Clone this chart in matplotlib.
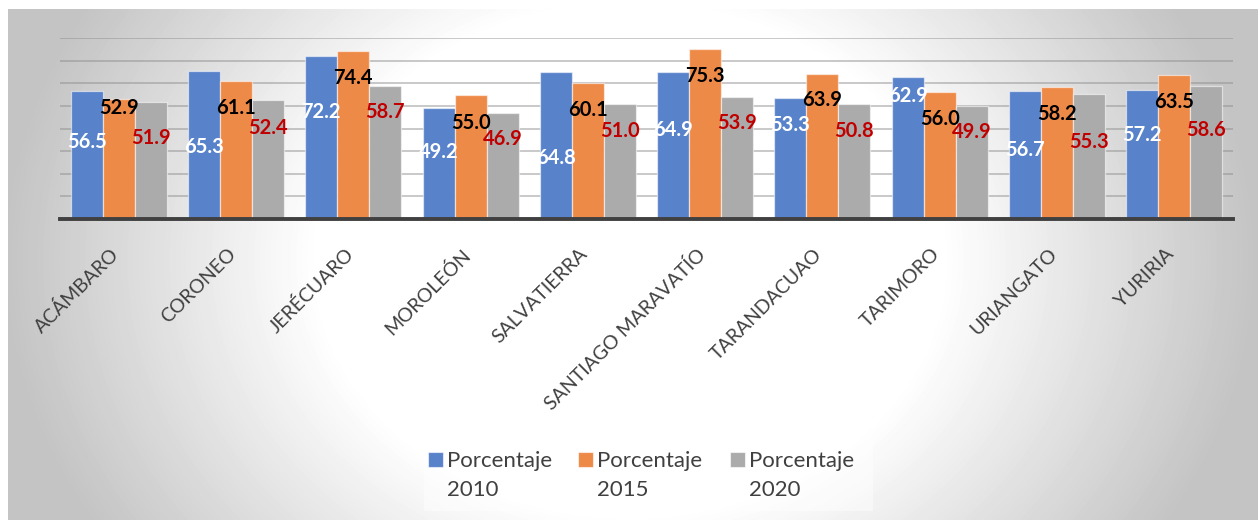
import numpy as np
import matplotlib.pyplot as plt
from matplotlib.patches import Rectangle
from matplotlib.transforms import ScaledTranslation

plt.rcParams['font.family'] = ['Lato', 'DejaVu Sans']

municipios = ['ACÁMBARO', 'CORONEO', 'JERÉCUARO', 'MOROLEÓN', 'SALVATIERRA',
              'SANTIAGO MARAVATÍO', 'TARANDACUAO', 'TARIMORO', 'URIANGATO', 'YURIRIA']
series = ['Porcentaje 2010', 'Porcentaje 2015', 'Porcentaje 2020']

p2010 = [56.5, 65.3, 72.2, 49.2, 64.8, 64.9, 53.3, 62.9, 56.7, 57.2]
p2015 = [52.9, 61.1, 74.4, 55.0, 60.1, 75.3, 63.9, 56.0, 58.2, 63.5]
p2020 = [51.9, 52.4, 58.7, 46.9, 51.0, 53.9, 50.8, 49.9, 55.3, 58.6]

# where each value label sits (data units, label centre)
lab_y2010 = [34.0, 31.8, 47.3, 29.6, 27.0, 39.3, 41.5, 54.4, 30.5, 37.1]
lab_y2015 = [49.1, 49.1, 62.3, 42.4, 48.2, 63.2, 52.6, 44.2, 46.4, 51.7]
lab_y2020 = [35.8, 40.2, 47.3, 35.4, 38.9, 42.4, 38.9, 38.5, 34.0, 39.3]

colores = ['#5883CB', '#EE8A48', '#ABABAB']
col_etiq = ['white', 'black', '#C00000']

W, H = 1258, 521
fig = plt.figure(figsize=(W / 100, H / 100), dpi=100)

# chart area background: soft elliptical gradient, white in the middle
bg = fig.add_axes([8 / W, 1 / H, 1250 / W, 511 / H])
xx, yy = np.meshgrid(np.arange(8, 1258), np.arange(9, 520))
d = np.sqrt(((xx - 630) / 625.0) ** 2 + ((yy - 260) / 510.0) ** 2)
t = np.clip((d - 0.5) / 0.5, 0, 1)
grad = 255 - t * 59
bg.imshow(grad, cmap='gray', vmin=0, vmax=255, aspect='auto',
          interpolation='bilinear')
bg.set_axis_off()

ax = fig.add_axes([60 / W, (H - 219) / H, 1173 / W, 181 / H])
ax.patch.set_alpha(0)

x = np.arange(len(municipios))
w = 0.273
valores = [p2010, p2015, p2020]
etiq_y = [lab_y2010, lab_y2015, lab_y2020]
for i in range(3):
    pos = x + (i - 1) * w
    ax.bar(pos, valores[i], width=w, color=colores[i],
           edgecolor=(1, 1, 1, 0.55), linewidth=0.9, zorder=3)
    for xp, v, yl in zip(pos, valores[i], etiq_y[i]):
        ax.text(xp, yl, f'{v:.1f}', ha='center', va='center', fontsize=14.5,
                fontweight='bold', color=col_etiq[i], zorder=4)

ax.set_xlim(-0.5, len(municipios) - 0.5)
ax.set_ylim(0, 80)
ax.set_yticks(np.arange(10, 90, 10))
ax.yaxis.grid(True, color='#8c8c8c', alpha=0.55, linewidth=1.2, zorder=0)
ax.set_axisbelow(True)
ax.tick_params(axis='y', left=False, labelleft=False)
ax.tick_params(axis='x', length=0, pad=19)
for s in ['top', 'left', 'right']:
    ax.spines[s].set_visible(False)
ax.spines['bottom'].set_color('#404040')
ax.spines['bottom'].set_linewidth(2.8)
ax.spines['bottom'].set_zorder(5)

ax.set_xticks(x)
ax.set_xticklabels(municipios, rotation=45, ha='right', va='top',
                   rotation_mode='anchor', fontsize=14, color='#404040')
# nudge the slanted names a little to the left
shift = ScaledTranslation(-9 / 100, 0, fig.dpi_scale_trans)
for lbl in ax.get_xticklabels():
    lbl.set_transform(lbl.get_transform() + shift)

# legend drawn by hand so the swatch lines up with the first text line
fig.add_artist(Rectangle((424 / W, 1 - 511 / H), 449 / W, 74 / H,
                         transform=fig.transFigure, facecolor='white',
                         alpha=0.45, edgecolor='none'))
leg_x = [428, 578, 730]
for i, nombre in enumerate(series):
    fig.add_artist(Rectangle((leg_x[i] / W, 1 - 467 / H), 15 / W, 15 / H,
                             transform=fig.transFigure, facecolor=colores[i],
                             edgecolor=(1, 1, 1, 0.6), linewidth=0.8))
    palabra, anio = nombre.split()
    fig.text((leg_x[i] + 19) / W, 1 - 467 / H, palabra, fontsize=16,
             color='#404040', va='baseline', ha='left')
    fig.text((leg_x[i] + 19) / W, 1 - 496 / H, anio, fontsize=16,
             color='#404040', va='baseline', ha='left')

fig.savefig('out.png', dpi=100)
